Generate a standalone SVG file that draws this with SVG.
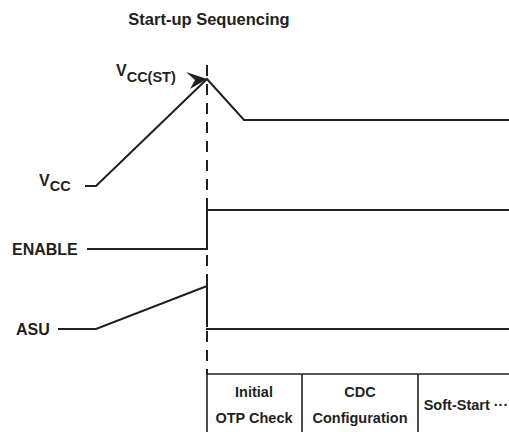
<svg xmlns="http://www.w3.org/2000/svg" width="509" height="432" viewBox="0 0 509 432">
<style>
text{font-family:"Liberation Sans",Arial,sans-serif;font-weight:bold;fill:#231f20}
.lbl{font-size:16px}
.sub{font-size:14.5px}
.tbl{font-size:14.5px}
.sig{fill:none;stroke:#231f20;stroke-width:2;stroke-linejoin:miter}
.dash{fill:none;stroke:#231f20;stroke-width:2;stroke-dasharray:11 8}
.grid{fill:none;stroke:#231f20;stroke-width:1.6}
</style>
<rect width="509" height="432" fill="#fff"/>
<text id="title" x="209" y="25" text-anchor="middle" style="font-size:16.5px">Start-up Sequencing</text>
<g id="connectors">
<line class="dash" x1="207" y1="65" x2="207" y2="374"/>
</g>
<g id="vcc">
<text class="lbl" x="39" y="186">V<tspan class="sub" dy="5">CC</tspan></text>
<polyline class="sig" points="85,186 96,186 207,79 244,120 509,120"/>
</g>
<g id="vccst">
<text class="lbl" x="116" y="76">V<tspan class="sub" dy="6">CC(ST)</tspan></text>
<path d="M186,72 L207,79 L190,89 L195,80 Z" fill="#231f20"/>
</g>
<g id="enable">
<text class="lbl" x="12" y="255">ENABLE</text>
<polyline class="sig" points="87,249 207,249 207,210 509,210"/>
</g>
<g id="asu">
<text class="lbl" x="16" y="335">ASU</text>
<polyline class="sig" points="58,329 96,329 207,286 207,327"/>
<line class="sig" x1="206" y1="329" x2="509" y2="329"/>
</g>
<g id="table">
<line class="grid" x1="206" y1="374" x2="509" y2="374"/>
<line class="grid" x1="207" y1="374" x2="207" y2="432"/>
<line class="grid" x1="302" y1="374" x2="302" y2="432"/>
<line class="grid" x1="418" y1="374" x2="418" y2="432"/>
<text class="tbl" x="254" y="397" text-anchor="middle">Initial</text>
<text class="tbl" x="254" y="423" text-anchor="middle">OTP Check</text>
<text class="tbl" x="360" y="397" text-anchor="middle">CDC</text>
<text class="tbl" x="360" y="423" text-anchor="middle">Configuration</text>
<text class="tbl" x="466" y="410" text-anchor="middle">Soft-Start ···</text>
</g>
</svg>
